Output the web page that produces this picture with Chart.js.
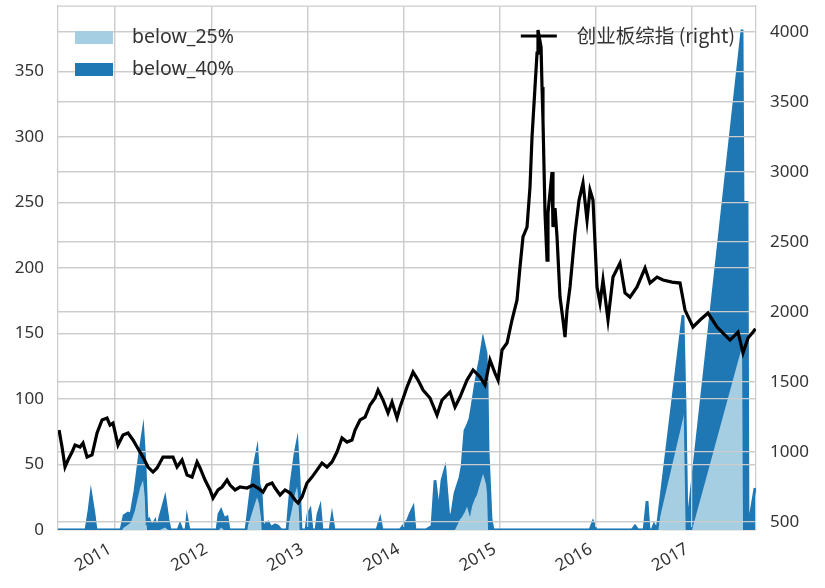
<!DOCTYPE html>
<html>
<head>
<meta charset="utf-8">
<script src="https://cdn.jsdelivr.net/npm/chart.js@4/dist/chart.umd.min.js"></script>
<style>
  html, body { margin: 0; padding: 0; background: #ffffff; }
  canvas { display: block; }
</style>
</head>
<body>
<canvas id="c" width="825" height="588"></canvas>
<script>
// ---- data (dates as decimal years) ----
const yearTicks = [2011, 2012, 2013, 2014, 2015, 2016, 2017];
const leftTicks = [0, 50, 100, 150, 200, 250, 300, 350];
const rightTicks = [500, 1000, 1500, 2000, 2500, 3000, 3500, 4000];

const areaDates = [
  2010.407, 2010.698, 2010.730, 2010.750, 2010.782, 2010.802,
  2011.062, 2011.094, 2011.135, 2011.166, 2011.208, 2011.260, 2011.291, 2011.312,
  2011.333, 2011.354, 2011.385, 2011.416, 2011.437, 2011.468, 2011.520, 2011.551,
  2011.572, 2011.655, 2011.676, 2011.697, 2011.738, 2011.749, 2011.769,
  2012.061, 2012.081, 2012.102, 2012.133, 2012.165, 2012.185,
  2012.362, 2012.404, 2012.445, 2012.477, 2012.497, 2012.518, 2012.539,
  2012.570, 2012.591, 2012.622, 2012.664, 2012.695, 2012.726,
  2012.789, 2012.830, 2012.872, 2012.893, 2012.913, 2012.934,
  2012.986, 2013.007, 2013.028, 2013.048, 2013.090, 2013.111, 2013.132, 2013.152,
  2013.236, 2013.256, 2013.277, 2013.724, 2013.756, 2013.776,
  2013.964, 2013.995, 2014.047, 2014.067, 2014.099, 2014.119,
  2014.234, 2014.296, 2014.327, 2014.348, 2014.359, 2014.400, 2014.431, 2014.473,
  2014.504, 2014.535, 2014.587, 2014.608, 2014.639, 2014.660, 2014.691, 2014.712,
  2014.743, 2014.764, 2014.795, 2014.827, 2014.858, 2014.868, 2014.879, 2014.910, 2014.931,
  2015.939, 2015.970, 2016.002, 2016.376, 2016.407, 2016.438,
  2016.501, 2016.532, 2016.553, 2016.584, 2016.605, 2016.636,
  2016.906, 2016.927, 2016.948, 2017.000, 2017.520, 2017.530, 2017.572, 2017.582, 2017.655
];
const below25 = [
  0, 0, 0, 0, 0, 0,
  0, 2, 4, 6, 15, 32, 38, 25,
  0, 0, 0, 0, 0, 0, 2, 0,
  0, 0, 0, 0, 0, 0, 0,
  0, 0, 2, 0, 0, 0,
  0, 8, 18, 25, 20, 10, 0,
  0, 0, 0, 0, 0, 0,
  0, 12, 28, 33, 20, 0,
  0, 0, 0, 0, 0, 0, 0, 0,
  0, 0, 0, 0, 0, 0,
  0, 0, 0, 0, 0, 0,
  0, 0, 0, 0, 0, 0, 0, 0,
  0, 0, 8, 10, 14, 18, 10, 18,
  24, 27, 35, 43, 35, 28, 0, 0, 0,
  0, 0, 0, 0, 0, 0,
  0, 0, 0, 0, 0, 0,
  85, 92, 0, 0, 140, 0, 0, 0, 0
];
const below40 = [
  0, 0, 15, 27, 12, 0,
  0, 9, 9, 6, 15, 28, 37, 25,
  6, 8, 3, 7, 0, 10, 22, 8,
  0, 0, 4, 0, 0, 8, 0,
  0, 12, 13, 9, 10, 0,
  0, 17, 30, 35, 15, 20, 0,
  5, 6, 2, 4, 3, 0,
  0, 23, 30, 33, 20, 0,
  0, 12, 15, 0, 0, 12, 17, 0,
  0, 10, 0, 0, 8, 0,
  0, 3, 8, 12, 17, 0,
  0, 3, 38, 25, 8, 38, 46, 8,
  13, 28, 32, 38, 62, 61, 75, 76,
  85, 91, 95, 102, 100, 87, 60, 8, 0,
  0, 6, 0, 0, 3, 0,
  0, 22, 0, 0, 4, 0,
  79, 3, 0, 35, 242, 250, 250, 0, 32
];

const lineDates = [
  2010.418, 2010.449, 2010.480, 2010.511, 2010.553, 2010.584, 2010.636, 2010.667, 2010.709, 2010.761,
  2010.813, 2010.865, 2010.917, 2010.948, 2010.979, 2011.031, 2011.083, 2011.135, 2011.187, 2011.229,
  2011.291, 2011.343, 2011.395, 2011.437, 2011.499, 2011.551, 2011.603, 2011.645, 2011.697, 2011.749,
  2011.801, 2011.853, 2011.884, 2011.936, 2011.988, 2012.019, 2012.071, 2012.113, 2012.165, 2012.196,
  2012.248, 2012.300, 2012.373, 2012.435, 2012.487, 2012.539, 2012.581, 2012.633, 2012.664, 2012.716,
  2012.768, 2012.820, 2012.872, 2012.903, 2012.944, 2012.996, 2013.048, 2013.100, 2013.152, 2013.204,
  2013.256, 2013.308, 2013.360, 2013.412, 2013.464, 2013.496, 2013.548, 2013.600, 2013.652, 2013.704,
  2013.735, 2013.787, 2013.839, 2013.880, 2013.932, 2013.964, 2014.015, 2014.036, 2014.099, 2014.151,
  2014.203, 2014.275, 2014.348, 2014.400, 2014.483, 2014.535, 2014.587, 2014.660, 2014.723, 2014.795,
  2014.847, 2014.899, 2014.951, 2014.983, 2015.024, 2015.076, 2015.128, 2015.180, 2015.211, 2015.242,
  2015.284, 2015.315, 2015.336, 2015.367, 2015.388, 2015.398, 2015.430, 2015.440, 2015.450, 2015.471,
  2015.492, 2015.502, 2015.544, 2015.554, 2015.575, 2015.596, 2015.627, 2015.658, 2015.679, 2015.700,
  2015.731, 2015.783, 2015.825, 2015.866, 2015.908, 2015.939, 2015.970, 2016.012, 2016.043, 2016.074,
  2016.126, 2016.178, 2016.251, 2016.303, 2016.355, 2016.428, 2016.511, 2016.563, 2016.636, 2016.698,
  2016.792, 2016.875, 2016.927, 2017.010, 2017.083, 2017.166, 2017.260, 2017.322, 2017.395, 2017.478,
  2017.530, 2017.582, 2017.634, 2017.660
];
const chinext = [
  1157, 1036, 893, 943, 1000, 1050, 1036, 1064, 964, 979,
  1136, 1229, 1243, 1193, 1207, 1050, 1121, 1136, 1086, 1036,
  964, 893, 857, 886, 964, 964, 964, 893, 943, 836,
  821, 929, 886, 800, 729, 671, 729, 750, 800, 764,
  729, 750, 743, 764, 743, 714, 764, 779, 743, 693,
  729, 707, 657, 636, 679, 779, 821, 871, 921, 893,
  929, 1000, 1100, 1071, 1086, 1157, 1229, 1250, 1336, 1386,
  1443, 1371, 1279, 1357, 1243, 1321, 1421, 1464, 1571, 1514,
  1443, 1386, 1264, 1371, 1429, 1321, 1393, 1514, 1586, 1536,
  1479, 1657, 1564, 1514, 1729, 1779, 1943, 2086, 2321, 2536,
  2607, 2893, 3250, 3607, 3850, 4014, 3893, 3607, 3371, 2707,
  2371, 2707, 3000, 2607, 2743, 2536, 2107, 1943, 1821, 2014,
  2179, 2564, 2800, 2921, 2657, 2871, 2800, 2179, 2064, 2229,
  1943, 2250, 2350, 2136, 2107, 2179, 2314, 2207, 2250, 2229,
  2214, 2207, 2014, 1893, 1943, 1993, 1893, 1850, 1800, 1857,
  1707, 1814, 1857, 1880
];

const seriesNames = ['创业板综指 (right)', 'below_25%', 'below_40%'];

// stacked top of the below_40% band (pandas stacked area)
const below40Top = below25.map((v, i) => v + below40[i]);

// ---- styling ----
Chart.defaults.font.family = '"Noto Sans", "Noto Sans CJK SC", sans-serif';
Chart.defaults.font.size = 17;
Chart.defaults.color = '#333333';

const GRID = '#cccccc';

const gridOverPlugin = {
  id: 'gridOver',
  beforeDatasetDraw(chart, args) {
    if (args.index !== 0) return;
    const ctx = chart.ctx, ca = chart.chartArea;
    ctx.save();
    ctx.beginPath();
    ctx.rect(ca.left, ca.top, ca.right - ca.left, ca.bottom - ca.top - 3);
    ctx.clip();
    ['y', 'y1', 'x'].forEach(id => {
      const s = chart.scales[id];
      if (s && s.drawGrid) s.drawGrid(ca);
    });
    ctx.restore();
  }
};

const framePlugin = {
  id: 'frame',
  afterDraw(chart) {
    const ctx = chart.ctx, ca = chart.chartArea;
    ctx.save();
    ctx.strokeStyle = GRID;
    ctx.lineWidth = 1.25;
    ctx.beginPath();
    ctx.moveTo(ca.left, ca.top);
    ctx.lineTo(ca.right, ca.top);
    ctx.stroke();
    ctx.restore();
  }
};

const legendPlugin = {
  id: 'twoLegends',
  afterDraw(chart) {
    const ctx = chart.ctx, ca = chart.chartArea;
    const ds = chart.data.datasets;
    ctx.save();
    ctx.font = '19.5px "Noto Sans", "Noto Sans CJK SC", sans-serif';
    ctx.textBaseline = 'middle';
    // left legend (area series)
    [[1, 31], [2, 63]].forEach(([i, dy]) => {
      ctx.fillStyle = ds[i].backgroundColor;
      ctx.fillRect(ca.left + 17, ca.top + dy - 6, 38, 13);
      ctx.fillStyle = '#333333';
      ctx.textAlign = 'left';
      ctx.fillText(ds[i].label, ca.left + 74, ca.top + dy);
    });
    // right legend (line series)
    ctx.font = '19.5px "Noto Sans CJK SC", "Noto Sans", sans-serif';
    ctx.textAlign = 'right';
    const tx = ca.right - 21;
    const ty = ca.top + 30;
    ctx.fillText(ds[0].label, tx, ty);
    const w = ctx.measureText(ds[0].label).width;
    ctx.strokeStyle = ds[0].borderColor;
    ctx.lineWidth = 3;
    ctx.beginPath();
    ctx.moveTo(tx - w - 56, ty);
    ctx.lineTo(tx - w - 20, ty);
    ctx.stroke();
    ctx.restore();
  }
};

const noPadV = s => { s.paddingTop = 0; s.paddingBottom = 0; };

new Chart(document.getElementById('c'), {
  type: 'line',
  data: {
    datasets: [
      {
        label: seriesNames[0],
        data: lineDates.map((d, i) => ({ x: d, y: chinext[i] })),
        yAxisID: 'y1',
        borderColor: '#000000',
        backgroundColor: '#000000',
        borderWidth: 3.2,
        pointRadius: 0,
        fill: false,
        tension: 0,
        order: 0
      },
      {
        label: seriesNames[1],
        data: areaDates.map((d, i) => ({ x: d, y: below25[i] })),
        yAxisID: 'y',
        borderColor: '#a6cee3',
        backgroundColor: '#a6cee3',
        borderWidth: 2.4,
        pointRadius: 0,
        fill: 'origin',
        tension: 0,
        clip: { left: 0, top: 0, right: 0, bottom: 0 },
        order: 2
      },
      {
        label: seriesNames[2],
        data: areaDates.map((d, i) => ({ x: d, y: below40Top[i] })),
        yAxisID: 'y',
        borderColor: '#1f78b4',
        backgroundColor: '#1f78b4',
        borderWidth: 2.8,
        pointRadius: 0,
        fill: '-1',
        tension: 0,
        clip: { left: 0, top: 0, right: 0, bottom: 0 },
        order: 1
      }
    ]
  },
  options: {
    responsive: false,
    animation: false,
    devicePixelRatio: 1,
    layout: { padding: { top: 6, left: 0, right: 0, bottom: 0 } },
    plugins: {
      legend: { display: false },
      tooltip: { enabled: false },
      title: { display: false }
    },
    scales: {
      x: {
        type: 'linear',
        min: 2010.407,
        max: 2017.665,
        afterBuildTicks: axis => { axis.ticks = yearTicks.map(v => ({ value: v })); },
        afterFit: s => { s.height = 58; s.paddingLeft = 0; s.paddingRight = 0; },
        grid: { color: GRID, lineWidth: 1.25, drawTicks: false },
        border: { color: GRID, width: 1.25 },
        ticks: {
          autoSkip: false,
          minRotation: 30,
          maxRotation: 30,
          padding: 9,
          labelOffset: -5,
          callback: v => String(v)
        }
      },
      y: {
        position: 'left',
        min: 0,
        max: 400,
        afterBuildTicks: axis => { axis.ticks = leftTicks.map(v => ({ value: v })); },
        afterFit: s => { s.width = 58; noPadV(s); },
        grid: { color: GRID, lineWidth: 1.25, drawTicks: false },
        border: { color: GRID, width: 1.25 },
        ticks: { padding: 14, callback: v => String(v) }
      },
      y1: {
        position: 'right',
        min: 443,
        max: 4186,
        afterBuildTicks: axis => { axis.ticks = rightTicks.map(v => ({ value: v })); },
        afterFit: s => { s.width = 69; noPadV(s); },
        grid: { color: GRID, lineWidth: 1.25, drawTicks: false },
        border: { color: GRID, width: 1.25 },
        ticks: { padding: 14, callback: v => String(v) }
      }
    }
  },
  plugins: [gridOverPlugin, framePlugin, legendPlugin]
});
</script>
</body>
</html>
